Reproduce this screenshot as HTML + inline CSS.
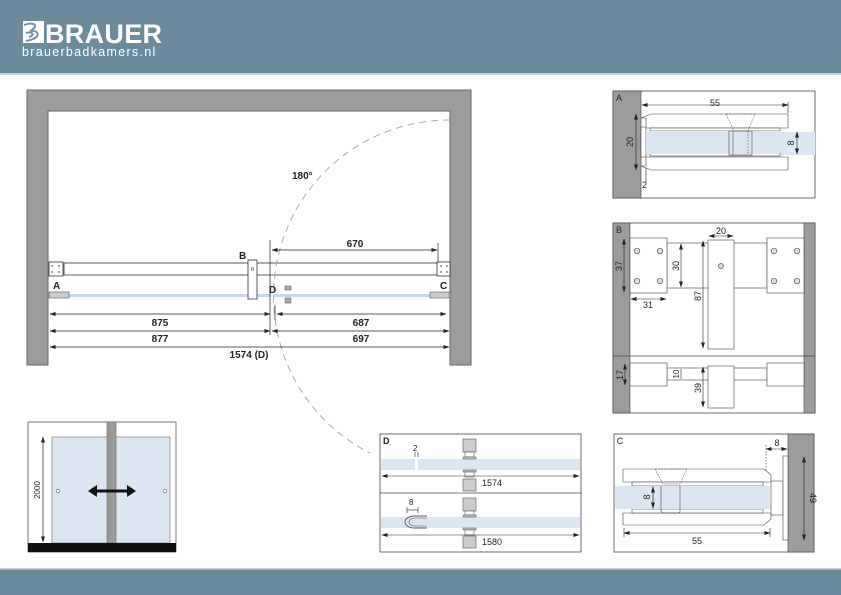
<!DOCTYPE html>
<html><head><meta charset="utf-8"><style>
html,body{margin:0;padding:0;background:#fff;}
svg{display:block;font-family:"Liberation Sans","DejaVu Sans",sans-serif;}
</style></head><body>
<svg width="841" height="595" viewBox="0 0 841 595" xmlns="http://www.w3.org/2000/svg">
<defs>
<marker id="ar" markerWidth="6" markerHeight="6" refX="5.5" refY="3" orient="auto-start-reverse" markerUnits="userSpaceOnUse"><path d="M0,1 L6,3 L0,5 Z" fill="#222"/></marker>
</defs>
<!-- header -->
<rect x="0" y="0" width="841" height="73" fill="#6b8b9c"/>
<rect x="0" y="73" width="841" height="2" fill="#c9d3d9"/>
<text x="45" y="43" font-size="27" font-weight="bold" fill="#fff" letter-spacing="0.3">BRAUER</text>
<rect x="23" y="21" width="21" height="22" fill="#fff"/>
<path d="M24,25 C34,21 40,26 30,31 C40,30 42,38 26,41 M26,33 C32,31 36,35 29,37" stroke="#6b8b9c" stroke-width="1.8" fill="none"/>
<text x="22" y="56" font-size="12.5" fill="#fff" letter-spacing="1.3">brauerbadkamers.nl</text>
<!-- footer -->
<rect x="0" y="569" width="841" height="26" fill="#6b8b9c"/>
<rect x="0" y="568" width="841" height="1.5" fill="#c9d3d9"/>

<!-- main plan walls -->
<path d="M27,90 H471 V365 H450 V111 H48 V365 H27 Z" fill="#9c9c9c" stroke="#666" stroke-width="1"/>
<!-- rail -->
<rect x="64" y="263" width="374" height="12" fill="#fff" stroke="#333" stroke-width="0.8"/>
<rect x="49" y="262" width="14" height="14" fill="#fff" stroke="#333" stroke-width="0.8"/>
<rect x="437" y="262" width="13" height="14" fill="#fff" stroke="#333" stroke-width="0.8"/>
<g fill="#888"><circle cx="52" cy="266" r="1"/><circle cx="59" cy="266" r="1"/><circle cx="52" cy="272" r="1"/><circle cx="59" cy="272" r="1"/><circle cx="441" cy="266" r="1"/><circle cx="447" cy="266" r="1"/><circle cx="441" cy="272" r="1"/><circle cx="447" cy="272" r="1"/></g>
<!-- glass -->
<rect x="49" y="294" width="222" height="3" fill="#c8d8e8"/>
<rect x="274" y="294" width="176" height="3" fill="#c8d8e8"/>
<rect x="49" y="292" width="20" height="6" fill="#ccc" stroke="#555" stroke-width="0.6"/>
<rect x="430" y="292" width="19" height="6" fill="#ccc" stroke="#555" stroke-width="0.6"/>
<!-- B bracket -->
<rect x="248" y="260" width="9" height="39" fill="#fff" stroke="#333" stroke-width="0.8"/>
<circle cx="252.5" cy="269" r="1.3" fill="none" stroke="#555" stroke-width="0.6"/>
<!-- D knob -->
<rect x="285" y="286" width="6" height="4" fill="#aaa" stroke="#444" stroke-width="0.5"/>
<rect x="285" y="298" width="6" height="5" fill="#aaa" stroke="#444" stroke-width="0.5"/>
<!-- arc -->
<path d="M450,120 A176,176 0 0 0 370,453" fill="none" stroke="#aaa" stroke-width="1" stroke-dasharray="7,5"/>
<text x="292" y="179" font-size="10" font-weight="600" fill="#222">180°</text>
<!-- labels -->
<g font-size="10" font-weight="bold" fill="#222">
<text x="53" y="289">A</text><text x="239" y="259">B</text><text x="440" y="289">C</text><text x="269" y="293">D</text>
</g>
<!-- dimensions -->
<g stroke="#222" stroke-width="0.7" fill="none">
<line x1="270" y1="240" x2="270" y2="306"/>
<line x1="438" y1="243" x2="438" y2="262"/>
<line x1="272" y1="250" x2="437" y2="250" marker-start="url(#ar)" marker-end="url(#ar)"/>
<line x1="50" y1="314" x2="270" y2="314" marker-start="url(#ar)" marker-end="url(#ar)"/>
<line x1="277" y1="314" x2="446" y2="314" marker-start="url(#ar)" marker-end="url(#ar)"/>
<line x1="50" y1="331" x2="270" y2="331" marker-start="url(#ar)" marker-end="url(#ar)"/>
<line x1="272" y1="331" x2="449" y2="331" marker-start="url(#ar)" marker-end="url(#ar)"/>
<line x1="50" y1="347" x2="449" y2="347" marker-start="url(#ar)" marker-end="url(#ar)"/>
<line x1="270" y1="305" x2="270" y2="335"/><line x1="275" y1="305" x2="275" y2="320"/>
</g>
<g font-size="10" font-weight="600" fill="#222" text-anchor="middle">
<text x="355" y="247">670</text>
<text x="160" y="326">875</text><text x="361" y="326">687</text>
<text x="160" y="342">877</text><text x="361" y="342">697</text>
<text x="249" y="358">1574 (D)</text>
</g>

<!-- elevation -->
<rect x="28" y="422" width="148" height="130" fill="#fff" stroke="#555" stroke-width="0.8"/>
<rect x="52" y="437" width="66" height="106" fill="#dce6f2" stroke="#666" stroke-width="0.6"/>
<rect x="110" y="437" width="60" height="106" fill="#dce6f2" stroke="#666" stroke-width="0.6"/>
<rect x="107" y="422" width="9" height="121" fill="#999" stroke="#666" stroke-width="0.6"/>
<rect x="28" y="543" width="148" height="9" fill="#111"/>
<circle cx="58" cy="491" r="1.8" fill="#fff" stroke="#555" stroke-width="0.6"/>
<circle cx="165" cy="491" r="1.8" fill="#fff" stroke="#555" stroke-width="0.6"/>
<line x1="95" y1="491" x2="129" y2="491" stroke="#111" stroke-width="3"/>
<path d="M88,491 L97,485 L97,497 Z M136,491 L127,485 L127,497 Z" fill="#111"/>
<line x1="43" y1="437" x2="43" y2="542" stroke="#222" stroke-width="0.7" marker-start="url(#ar)" marker-end="url(#ar)"/>
<text transform="translate(40,490) rotate(-90)" font-size="8" text-anchor="middle" fill="#222">2000</text>

<!-- Panel A -->
<rect x="613" y="91" width="202" height="107" fill="#fff" stroke="#444" stroke-width="0.8"/>
<rect x="613" y="91" width="28" height="107" fill="#9c9c9c" stroke="#444" stroke-width="0.6"/>
<rect x="646" y="132" width="169" height="23" fill="#dce6f2"/>
<g fill="#fff" stroke="#444" stroke-width="0.6">
<path d="M641,118 L651,114 H788 V128 H646 V118Z"/>
<path d="M641,166 L651,170 H788 V157 H646 V166Z"/>
<rect x="650" y="128" width="130" height="3"/>
<rect x="650" y="153" width="130" height="3"/>
<rect x="641" y="127" width="5" height="30"/>
</g>
<rect x="646" y="131" width="134" height="23" fill="#dce6f2"/>
<path d="M726,114 L755,114 L748,131 L734,131 Z" fill="none" stroke="#444" stroke-width="0.5" stroke-dasharray="2,1"/>
<rect x="729" y="131" width="23" height="24" fill="none" stroke="#444" stroke-width="0.6"/>
<line x1="733" y1="131" x2="733" y2="155" stroke="#444" stroke-width="0.5"/>
<line x1="748" y1="131" x2="748" y2="155" stroke="#444" stroke-width="0.5" stroke-dasharray="2,1"/>
<g stroke="#222" stroke-width="0.6" fill="none">
<line x1="642" y1="105" x2="788" y2="105" marker-start="url(#ar)" marker-end="url(#ar)"/>
<line x1="788" y1="102" x2="788" y2="113"/>
<line x1="636" y1="114" x2="636" y2="170" marker-start="url(#ar)" marker-end="url(#ar)"/>
<line x1="797" y1="132" x2="797" y2="154" marker-start="url(#ar)" marker-end="url(#ar)"/>
<line x1="646" y1="168" x2="646" y2="182"/>
</g>
<g font-size="9" fill="#222">
<text x="616" y="101">A</text><text x="710" y="106">55</text>
<text transform="translate(633,142) rotate(-90)" text-anchor="middle">20</text>
<text transform="translate(794,143) rotate(-90)" text-anchor="middle">8</text>
<text x="642" y="188">2</text>
</g>

<!-- Panel B -->
<rect x="613" y="223" width="202" height="190" fill="#fff" stroke="#444" stroke-width="0.8"/>
<rect x="613" y="223" width="17" height="190" fill="#9c9c9c" stroke="#444" stroke-width="0.6"/>
<rect x="804" y="223" width="11" height="190" fill="#9c9c9c" stroke="#444" stroke-width="0.6"/>
<line x1="613" y1="356" x2="815" y2="356" stroke="#444" stroke-width="0.8"/>
<g fill="#fff" stroke="#444" stroke-width="0.6">
<rect x="667" y="243" width="100" height="45"/>
<rect x="630" y="238" width="37" height="55"/>
<rect x="767" y="238" width="37" height="55"/>
<rect x="708" y="240" width="26" height="109"/>
<rect x="667" y="368" width="100" height="12"/>
<rect x="630" y="363" width="37" height="23"/>
<rect x="767" y="363" width="37" height="23"/>
<rect x="708" y="366" width="26" height="42"/>
</g>
<g fill="#ddd" stroke="#555" stroke-width="0.7">
<circle cx="637" cy="251" r="2.8"/><circle cx="660" cy="251" r="2.8"/><circle cx="637" cy="281" r="2.8"/><circle cx="660" cy="281" r="2.8"/>
<circle cx="774" cy="251" r="2.8"/><circle cx="797" cy="251" r="2.8"/><circle cx="774" cy="281" r="2.8"/><circle cx="797" cy="281" r="2.8"/>
<circle cx="721" cy="266" r="2.5"/>
</g>
<g stroke="#222" stroke-width="0.6" fill="none">
<line x1="624" y1="239" x2="624" y2="292" marker-start="url(#ar)" marker-end="url(#ar)"/>
<line x1="681" y1="244" x2="681" y2="287" marker-start="url(#ar)" marker-end="url(#ar)"/>
<line x1="703" y1="241" x2="703" y2="348" marker-start="url(#ar)" marker-end="url(#ar)"/>
<line x1="709" y1="236" x2="733" y2="236" marker-start="url(#ar)" marker-end="url(#ar)"/>
<line x1="631" y1="299" x2="666" y2="299" marker-start="url(#ar)" marker-end="url(#ar)"/>
<line x1="625" y1="364" x2="625" y2="385" marker-start="url(#ar)" marker-end="url(#ar)"/>
<line x1="681" y1="369" x2="681" y2="379"/>
<line x1="703" y1="367" x2="703" y2="407" marker-start="url(#ar)" marker-end="url(#ar)"/>
</g>
<g font-size="9" fill="#222" text-anchor="middle">
<text x="619" y="233">B</text>
<text transform="translate(622,266) rotate(-90)">37</text>
<text transform="translate(679,266) rotate(-90)">30</text>
<text transform="translate(701,296) rotate(-90)">87</text>
<text x="721" y="234">20</text>
<text x="648" y="308">31</text>
<text transform="translate(623,375) rotate(-90)">17</text>
<text transform="translate(679,374) rotate(-90)" font-size="8">10</text>
<text transform="translate(701,388) rotate(-90)">39</text>
</g>

<!-- Panel D -->
<rect x="380" y="434" width="201" height="118" fill="#fff" stroke="#444" stroke-width="0.8"/>
<line x1="380" y1="493" x2="581" y2="493" stroke="#444" stroke-width="0.8"/>
<rect x="381" y="459" width="34" height="11" fill="#dce6f2"/>
<rect x="418" y="459" width="162" height="11" fill="#dce6f2"/>
<rect x="381" y="517" width="199" height="11" fill="#dce6f2"/>
<g fill="#ccc" stroke="#555" stroke-width="0.6">
<rect x="463" y="439" width="13" height="13"/><rect x="465" y="452" width="9" height="5" fill="#fff"/><rect x="463" y="457" width="13" height="2"/>
<rect x="463" y="470" width="13" height="2"/><rect x="465" y="472" width="9" height="5" fill="#fff"/><rect x="463" y="479" width="13" height="12"/>
<rect x="463" y="498" width="13" height="13"/><rect x="465" y="511" width="9" height="4" fill="#fff"/><rect x="463" y="515" width="13" height="2"/>
<rect x="463" y="528" width="13" height="2"/><rect x="465" y="530" width="9" height="5" fill="#fff"/><rect x="463" y="536" width="13" height="12"/>
</g>
<path d="M427,516 H414 A9,6 0 0 0 414,528 H427" fill="none" stroke="#555" stroke-width="0.9"/>
<path d="M427,518 H415 A6,4 0 0 0 415,526 H427" fill="none" stroke="#555" stroke-width="0.6"/>
<g stroke="#222" stroke-width="0.6" fill="none">
<line x1="382" y1="476" x2="579" y2="476" marker-start="url(#ar)" marker-end="url(#ar)"/>
<line x1="382" y1="535" x2="579" y2="535" marker-start="url(#ar)" marker-end="url(#ar)"/>
<line x1="407" y1="510" x2="418" y2="510"/><line x1="407" y1="507" x2="407" y2="513"/><line x1="418" y1="507" x2="418" y2="513"/>
<line x1="415" y1="452" x2="415" y2="457"/><line x1="418" y1="452" x2="418" y2="457"/>
</g>
<g font-size="9" fill="#222">
<text x="383" y="444" font-weight="bold">D</text>
<text x="413" y="451" font-size="8">2</text>
<text x="409" y="505" font-size="8">8</text>
<text x="482" y="486">1574</text><text x="482" y="545">1580</text>
</g>

<!-- Panel C -->
<rect x="614" y="434" width="200" height="118" fill="#fff" stroke="#444" stroke-width="0.8"/>
<rect x="788" y="434" width="26" height="118" fill="#9c9c9c" stroke="#444" stroke-width="0.6"/>
<rect x="615" y="486" width="155" height="23" fill="#dce6f2"/>
<g fill="#fff" stroke="#444" stroke-width="0.6">
<path d="M623,469 H764 L771,475 V482 H623 Z"/>
<path d="M623,525 H764 L771,519 V513 H623 Z"/>
<rect x="632" y="482" width="131" height="4"/>
<rect x="632" y="509" width="131" height="4"/>
<rect x="771" y="481" width="12" height="34"/>
<rect x="783" y="456" width="5" height="84"/>
</g>
<rect x="632" y="486" width="136" height="23" fill="#dce6f2"/>
<path d="M655,469 L687,469 L680,484 L663,484 Z" fill="none" stroke="#444" stroke-width="0.5" stroke-dasharray="2,1"/>
<path d="M661,486 V511 Q662,513 664,513 H678 Q680,513 680,511 V486" fill="none" stroke="#444" stroke-width="0.6"/>
<line x1="653" y1="486" x2="653" y2="509" stroke="#444" stroke-width="0.5" stroke-dasharray="2,1"/>
<g stroke="#222" stroke-width="0.6" fill="none">
<line x1="624" y1="533" x2="770" y2="533" marker-start="url(#ar)" marker-end="url(#ar)"/>
<line x1="624" y1="528" x2="624" y2="537"/><line x1="770" y1="528" x2="770" y2="537"/>
<line x1="766" y1="449" x2="787" y2="449" marker-start="url(#ar)" marker-end="url(#ar)"/>
<line x1="766" y1="445" x2="766" y2="470" stroke-dasharray="1.5,1.5"/>
<line x1="653" y1="487" x2="653" y2="508" marker-start="url(#ar)" marker-end="url(#ar)"/>
<line x1="804" y1="457" x2="804" y2="540" marker-start="url(#ar)" marker-end="url(#ar)"/>
</g>
<g font-size="9" fill="#222" text-anchor="middle">
<text x="620" y="444">C</text>
<text x="777" y="446">8</text>
<text x="697" y="544">55</text>
<text transform="translate(650,497) rotate(-90)">8</text>
<text transform="translate(810,498) rotate(90)">49</text>
</g>
</svg>
</body></html>
